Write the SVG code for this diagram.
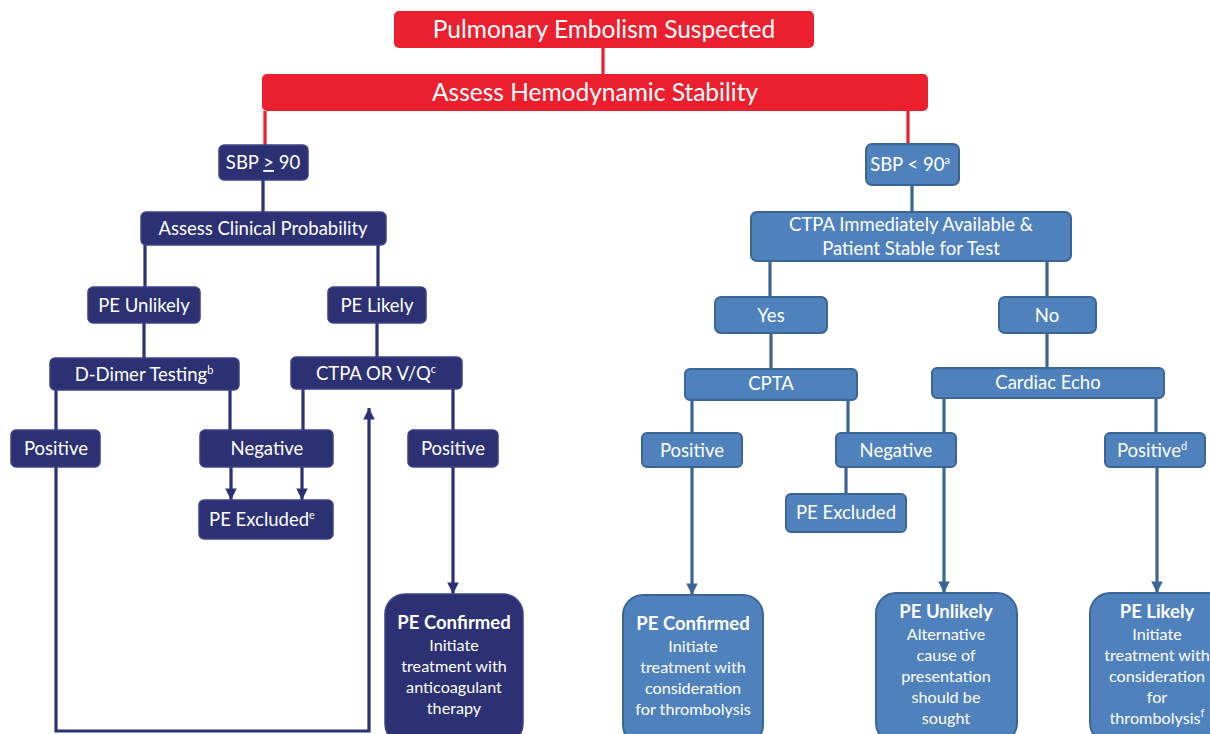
<svg xmlns="http://www.w3.org/2000/svg" width="1210" height="734" viewBox="0 0 1210 734">
<style>
text{font-family:Lato,"Open Sans","Liberation Sans",sans-serif;fill:#fff;text-anchor:middle}
.red{fill:#EC1F2F}
.navy{fill:#2B3172;stroke:#3C4285;stroke-width:1.5}
.blue{fill:#4F81BD;stroke:#3A6594;stroke-width:2}
.t17{font-size:18.5px}
.t15{font-size:16.2px}
.big{font-size:24.5px}
.b{font-weight:bold;font-size:18.5px}
.sup{font-size:11px}
.ln{fill:none;stroke-width:3.2}
.rl{stroke:#EC1F2F}
.nl{stroke:#2B3172}
.bl{stroke:#3A6594}
</style>
<defs>
<marker id="an" viewBox="0 0 10 10" refX="10" refY="5" markerWidth="4" markerHeight="3.6" orient="auto" markerUnits="strokeWidth"><path d="M0,0 L10,5 L0,10 Z" fill="#2B3172"/></marker>
<marker id="ab" viewBox="0 0 10 10" refX="10" refY="5" markerWidth="4" markerHeight="3.6" orient="auto" markerUnits="strokeWidth"><path d="M0,0 L10,5 L0,10 Z" fill="#3A6594"/></marker>
</defs>
<g id="connectors">
<path class="ln rl" d="M603,48V74 M265,111V146 M908,111V145"/>
<path class="ln nl" d="M263,180V213 M145,245V288 M378,245V288 M144,323V359 M377,323V358 M56,390V431 M230,390V431 M303,389V431 M453,389V431"/>
<path class="ln nl" d="M231,467V500" marker-end="url(#an)"/>
<path class="ln nl" d="M302,467V500" marker-end="url(#an)"/>
<path class="ln nl" d="M56,467V731H369V408" marker-end="url(#an)"/>
<path class="ln nl" d="M453,467V594" marker-end="url(#an)"/>
<path class="ln bl" d="M912,185V213 M770,261V298 M1047,261V298 M771,333V370 M1047,333V369 M692,400V434 M848,400V434 M944,398V434 M1156,398V434 M846,467V495"/>
<path class="ln bl" d="M692,467V595" marker-end="url(#ab)"/>
<path class="ln bl" d="M944,467V593" marker-end="url(#ab)"/>
<path class="ln bl" d="M1157,467V593" marker-end="url(#ab)"/>
</g>
<g id="pe-suspected"><rect class="red" x="394" y="11" width="420" height="37" rx="5"/><text class="big" x="604" y="38">Pulmonary Embolism Suspected</text></g>
<g id="assess-hemo"><rect class="red" x="262" y="74" width="666" height="37" rx="5"/><text class="big" x="595" y="101">Assess Hemodynamic Stability</text></g>
<g id="sbp-ge90"><rect class="navy" x="219" y="145" width="89" height="35" rx="5"/><text class="t17" x="263" y="169">SBP <tspan text-decoration="underline">&gt;</tspan> 90</text></g>
<g id="assess-clinical"><rect class="navy" x="141" y="212" width="245" height="33" rx="5"/><text class="t17" x="263" y="235">Assess Clinical Probability</text></g>
<g id="pe-unlikely-l"><rect class="navy" x="88" y="287" width="112" height="36" rx="5"/><text class="t17" x="144" y="312">PE Unlikely</text></g>
<g id="pe-likely-l"><rect class="navy" x="328" y="287" width="98" height="36" rx="5"/><text class="t17" x="377" y="312">PE Likely</text></g>
<g id="ddimer"><rect class="navy" x="50" y="358" width="189" height="32" rx="5"/><text class="t17" x="144" y="381">D-Dimer Testing<tspan class="sup" dy="-7">b</tspan></text></g>
<g id="ctpa-vq"><rect class="navy" x="291" y="357" width="171" height="32" rx="5"/><text class="t17" x="376" y="380">CTPA OR V/Q<tspan class="sup" dy="-7">c</tspan></text></g>
<g id="positive-l1"><rect class="navy" x="11" y="430" width="89" height="37" rx="5"/><text class="t17" x="56" y="455">Positive</text></g>
<g id="negative-l"><rect class="navy" x="200" y="430" width="133" height="37" rx="5"/><text class="t17" x="267" y="455">Negative</text></g>
<g id="positive-l2"><rect class="navy" x="408" y="430" width="90" height="37" rx="5"/><text class="t17" x="453" y="455">Positive</text></g>
<g id="pe-excluded-l"><rect class="navy" x="199" y="500" width="134" height="39" rx="5"/><text class="t17" x="262" y="526">PE Excluded<tspan class="sup" dy="-7">e</tspan></text></g>
<g id="pe-confirmed-l"><rect class="navy" x="385" y="594" width="138" height="150" rx="20"/>
<text class="b" x="454" y="629">PE Confirmed</text>
<text class="t15" x="454" y="651">Initiate</text>
<text class="t15" x="454" y="672">treatment with</text>
<text class="t15" x="454" y="693">anticoagulant</text>
<text class="t15" x="454" y="714">therapy</text></g>
<g id="sbp-lt90"><rect class="blue" x="866" y="144" width="93" height="41" rx="6"/><text class="t17" x="910" y="171">SBP &lt; 90<tspan class="sup" dy="-7">a</tspan></text></g>
<g id="ctpa-available"><rect class="blue" x="751" y="212" width="320" height="49" rx="6"/><text class="t17" x="911" y="231">CTPA Immediately Available &amp;</text><text class="t17" x="911" y="255">Patient Stable for Test</text></g>
<g id="yes"><rect class="blue" x="715" y="297" width="112" height="36" rx="6"/><text class="t17" x="771" y="322">Yes</text></g>
<g id="no"><rect class="blue" x="999" y="297" width="97" height="36" rx="6"/><text class="t17" x="1047" y="322">No</text></g>
<g id="cpta"><rect class="blue" x="685" y="369" width="172" height="31" rx="5"/><text class="t17" x="771" y="390">CPTA</text></g>
<g id="cardiac-echo"><rect class="blue" x="932" y="368" width="232" height="30" rx="5"/><text class="t17" x="1048" y="389">Cardiac Echo</text></g>
<g id="positive-r1"><rect class="blue" x="642" y="433" width="100" height="34" rx="5"/><text class="t17" x="692" y="457">Positive</text></g>
<g id="negative-r"><rect class="blue" x="836" y="433" width="120" height="34" rx="5"/><text class="t17" x="896" y="457">Negative</text></g>
<g id="positive-r2"><rect class="blue" x="1105" y="433" width="100" height="34" rx="5"/><text class="t17" x="1152" y="457">Positive<tspan class="sup" dy="-7">d</tspan></text></g>
<g id="pe-excluded-r"><rect class="blue" x="786" y="494" width="120" height="38" rx="5"/><text class="t17" x="846" y="519">PE  Excluded</text></g>
<g id="pe-confirmed-r"><rect class="blue" x="623" y="595" width="140" height="150" rx="20"/>
<text class="b" x="693" y="630">PE Confirmed</text>
<text class="t15" x="693" y="652">Initiate</text>
<text class="t15" x="693" y="673">treatment with</text>
<text class="t15" x="693" y="694">consideration</text>
<text class="t15" x="693" y="715">for thrombolysis</text></g>
<g id="pe-unlikely-r"><rect class="blue" x="876" y="593" width="141" height="150" rx="20"/>
<text class="b" x="946" y="618">PE Unlikely</text>
<text class="t15" x="946" y="640">Alternative</text>
<text class="t15" x="946" y="661">cause of</text>
<text class="t15" x="946" y="682">presentation</text>
<text class="t15" x="946" y="703">should be</text>
<text class="t15" x="946" y="724">sought</text></g>
<g id="pe-likely-r"><rect class="blue" x="1090" y="593" width="140" height="150" rx="20"/>
<text class="b" x="1157" y="618">PE Likely</text>
<text class="t15" x="1157" y="640">Initiate</text>
<text class="t15" x="1157" y="661">treatment with</text>
<text class="t15" x="1157" y="682">consideration</text>
<text class="t15" x="1157" y="703">for</text>
<text class="t15" x="1157" y="724">thrombolysis<tspan class="sup" dy="-7">f</tspan></text></g>
</svg>
